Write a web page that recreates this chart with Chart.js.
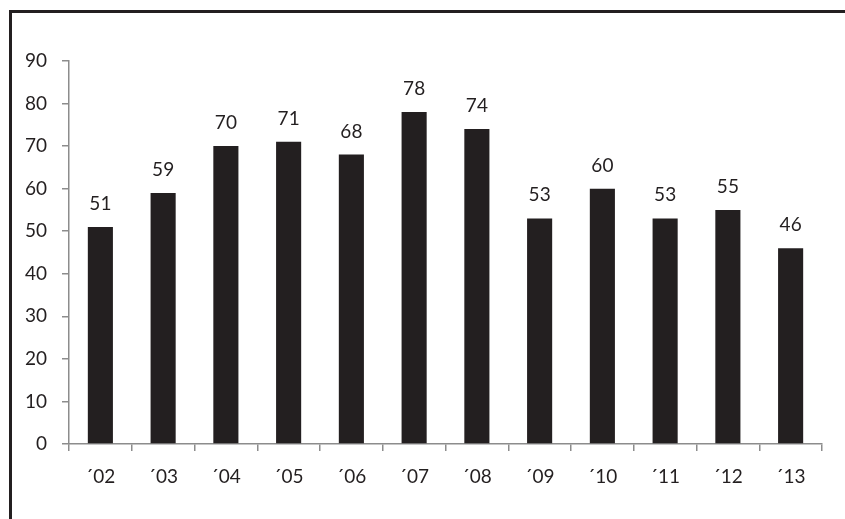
<!DOCTYPE html>
<html><head><meta charset="utf-8">
<script src="https://cdn.jsdelivr.net/npm/chart.js@4"></script>
<style>html,body{margin:0;padding:0;background:#fff}#wrap{width:845px;height:519px;position:relative}</style>
</head><body><div id="wrap"><canvas id="c" width="845" height="519"></canvas></div>
<script>
const categories = ["´02","´03","´04","´05","´06","´07","´08","´09","´10","´11","´12","´13"];
const values = [51,59,70,71,68,78,74,53,60,53,55,46];
const yTicks = {min:0, max:90, step:10};

const frame = {
  id:'frame',
  afterDraw(chart){
    const ctx = chart.ctx;
    ctx.save();
    ctx.strokeStyle = '#231f20';
    ctx.lineWidth = 3;
    ctx.strokeRect(10.5, 11.5, 900, 600);
    ctx.restore();
  }
};
const labels = {
  id:'labels',
  afterDatasetsDraw(chart){
    const ctx = chart.ctx;
    const meta = chart.getDatasetMeta(0);
    ctx.save();
    ctx.fillStyle = '#231f20';
    ctx.font = '19px Lato';
    ctx.textAlign = 'center';
    ctx.textBaseline = 'alphabetic';
    meta.data.forEach((b,i)=>{
      ctx.fillText(String(values[i]), b.x, b.y - 17);
    });
    ctx.restore();
  }
};
new Chart(document.getElementById('c'), {
  type:'bar',
  data:{labels:categories, datasets:[{data:values, backgroundColor:'#231f20', barPercentage:0.4, categoryPercentage:1}]},
  options:{
    responsive:false, animation:false,
    layout:{padding:{left:0, right:23, top:61, bottom:0}},
    plugins:{legend:{display:false}, tooltip:{enabled:false}},
    scales:{
      x:{
        grid:{display:true, drawOnChartArea:false, color:'#8c8c8c', lineWidth:1.5, tickLength:7, offset:true},
        border:{color:'#8c8c8c', width:1.5},
        ticks:{color:'#231f20', font:{family:'Lato', size:19}, padding:14, maxRotation:0},
        afterFit(s){ s.height = 75; }
      },
      y:{
        min:yTicks.min, max:yTicks.max,
        grid:{display:true, drawOnChartArea:false, color:'#8c8c8c', lineWidth:1.5, tickLength:7},
        border:{color:'#8c8c8c', width:1.5},
        ticks:{stepSize:yTicks.step, color:'#231f20', font:{family:'Lato', size:19}, padding:15},
        afterFit(s){ s.width = 69; }
      }
    }
  },
  plugins:[frame, labels]
});
</script></body></html>
